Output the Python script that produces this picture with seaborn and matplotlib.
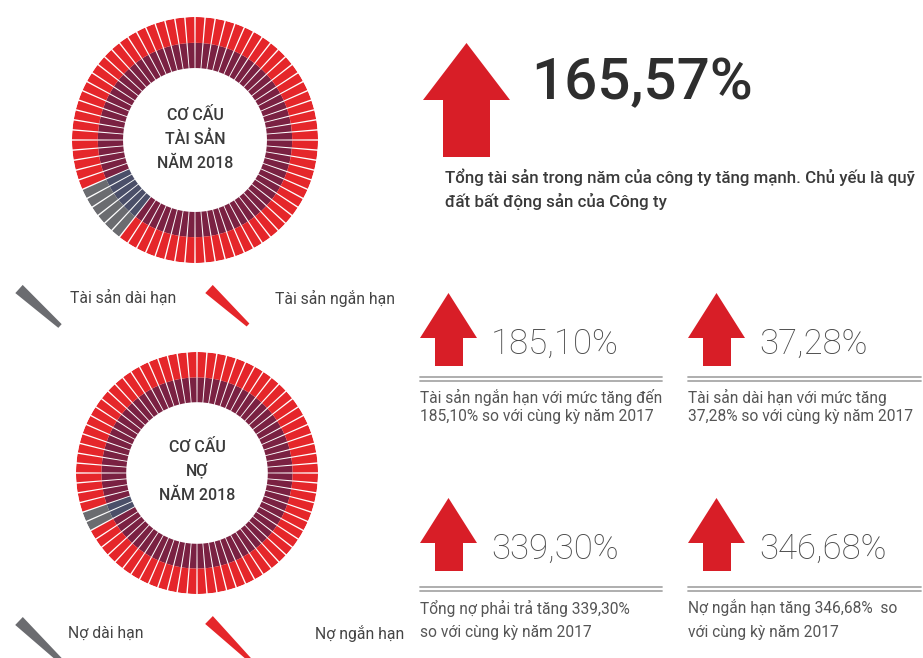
import numpy as np
import matplotlib
matplotlib.use('Agg')
import matplotlib.pyplot as plt
from matplotlib.patches import Polygon
import seaborn as sns

# ---- data ----
asset_parts = ['Tài sản dài hạn', 'Tài sản ngắn hạn']
asset_share = [7, 93]          # % of total assets, estimated from the ring
debt_parts = ['Nợ dài hạn', 'Nợ ngắn hạn']
debt_share = [2.5, 97.5]       # % of total debt, estimated from the ring

asset_title = 'CƠ CẤU\nTÀI SẢN\nNĂM 2018'
debt_title = 'CƠ CẤU\nNỢ\nNĂM 2018'

headline_value = '165,57%'
headline_note = ['Tổng tài sản trong năm của công ty tăng mạnh. Chủ yếu là quỹ',
                 'đất bất động sản của Công ty']

growth_values = ['185,10%', '37,28%', '339,30%', '346,68%']
growth_notes = [
    ['Tài sản ngắn hạn với mức tăng đến', '185,10% so với cùng kỳ năm 2017'],
    ['Tài sản dài hạn với mức tăng', '37,28% so với cùng kỳ năm 2017'],
    ['Tổng nợ phải trả tăng 339,30%', 'so với cùng kỳ năm 2017'],
    ['Nợ ngắn hạn tăng 346,68%  so', 'với cùng kỳ năm 2017'],
]

# ---- style ----
sns.set_theme(style='white')
plt.rcParams['font.family'] = ['Roboto', 'DejaVu Sans']

RED = '#e5262a'
MAROON = '#7a2142'
GRAY = '#6b6c70'
SLATE = '#4b4f69'
ARROW = '#d81e27'
TXT = '#3a3a3a'

W, H = 923, 658
fig = plt.figure(figsize=(W / 100, H / 100), dpi=100)
fig.patch.set_facecolor('white')

# overlay axes in pixel coordinates for the infographic decoration
ov = fig.add_axes([0, 0, 1, 1])
ov.set_xlim(0, W)
ov.set_ylim(H, 0)
ov.set_facecolor('none')
ov.axis('off')


def draw_donut(cx, cy, r, shares, start_deg, title, text_y):
    ax = fig.add_axes([(cx - r) / W, 1 - (cy + r) / H, 2 * r / W, 2 * r / H],
                      projection='polar')
    n = 76
    step = 2 * np.pi / n
    theta = np.arange(n) * step + step / 2
    bounds = np.cumsum(shares) / np.sum(shares) * 2 * np.pi
    rel = (theta - np.deg2rad(start_deg)) % (2 * np.pi)
    idx = np.searchsorted(bounds, rel, side='right')
    outer = [[GRAY, RED][i] for i in idx]
    inner = [[SLATE, MAROON][i] for i in idx]
    ax.bar(theta, 0.205, width=step * 0.86, bottom=0.585, color=inner, linewidth=0)
    ax.bar(theta, 0.21, width=step * 0.86, bottom=0.79, color=outer, linewidth=0)
    ax.set_ylim(0, 1)
    ax.set_axis_off()
    for line, y in zip(title.split('\n'), text_y):
        ov.text(cx, y, line, ha='center', va='center', fontsize=11.5,
                fontweight='medium', color=TXT)


def legend_wedge(x0, y0, x1, y1, w0, w1, color):
    d = np.array([x1 - x0, y1 - y0], dtype=float)
    nrm = np.array([-d[1], d[0]]) / np.hypot(*d)
    pts = [np.array([x0, y0]) + nrm * w0 / 2, np.array([x1, y1]) + nrm * w1 / 2,
           np.array([x1, y1]) - nrm * w1 / 2, np.array([x0, y0]) - nrm * w0 / 2]
    ov.add_patch(Polygon(pts, closed=True, color=color, lw=0))


def up_arrow(x0, x1, top, base, bottom, s0, s1):
    cx = (x0 + x1) / 2
    pts = [(cx, top), (x1, base), (s1, base), (s1, bottom),
           (s0, bottom), (s0, base), (x0, base)]
    ov.add_patch(Polygon(pts, closed=True, color=ARROW, lw=0))


# donuts
draw_donut(195, 140, 123, asset_share, 205, asset_title, [115, 139, 163])
draw_donut(197, 473, 121, debt_share, 200, debt_title, [447, 471, 495])

# legends
legend_wedge(19, 289, 60, 326, 11, 5, GRAY)
legend_wedge(209, 289, 248, 325, 11, 4, RED)
ov.text(70, 298, asset_parts[0], ha='left', va='center', fontsize=11.3, color='#444444')
ov.text(275, 298, asset_parts[1], ha='left', va='center', fontsize=11.3, color='#444444')

legend_wedge(19, 621, 62, 662, 11, 5, GRAY)
legend_wedge(209, 620, 250, 660, 11, 4, RED)
ov.text(68, 633, debt_parts[0], ha='left', va='center', fontsize=11.3, color='#444444')
ov.text(404, 633, debt_parts[1], ha='right', va='center', fontsize=11.3, color='#444444')

# headline block
up_arrow(423, 510, 43, 100, 157, 443, 490)
ov.text(531, 84, headline_value, ha='left', va='center', fontsize=42,
        fontweight='medium', color='#2e2e2e')
ov.text(445, 177, headline_note[0], ha='left', va='center', fontsize=12.2,
        fontweight='medium', color=TXT)
ov.text(445, 201, headline_note[1], ha='left', va='center', fontsize=12.2,
        fontweight='medium', color=TXT)

# growth panels
panel_x = [420, 688, 420, 688]
panel_top = [293, 293, 498, 498]
rule_y = [377, 377, 587, 587]
note_y = [(397, 416), (397, 416), (608, 633), (608, 633)]
rule_end = [662, 921, 662, 921]
for i, val in enumerate(growth_values):
    x, t = panel_x[i], panel_top[i]
    up_arrow(x, x + 57, t, t + 45, t + 73, x + 15, x + 43)
    ov.text(x + 71, t + 51, val, ha='left', va='center', fontsize=25,
            fontweight='light', color='#4a4a4a')
    ov.plot([x, rule_end[i]], [rule_y[i], rule_y[i]], color='#a8a8a8', lw=1.3)
    ov.plot([x, rule_end[i]], [rule_y[i] + 3.5, rule_y[i] + 3.5], color='#a8a8a8', lw=1.3)
    for line, y in zip(growth_notes[i], note_y[i]):
        ov.text(x, y, line, ha='left', va='center', fontsize=11.2, color='#555555')

fig.savefig('out.png', dpi=100)
